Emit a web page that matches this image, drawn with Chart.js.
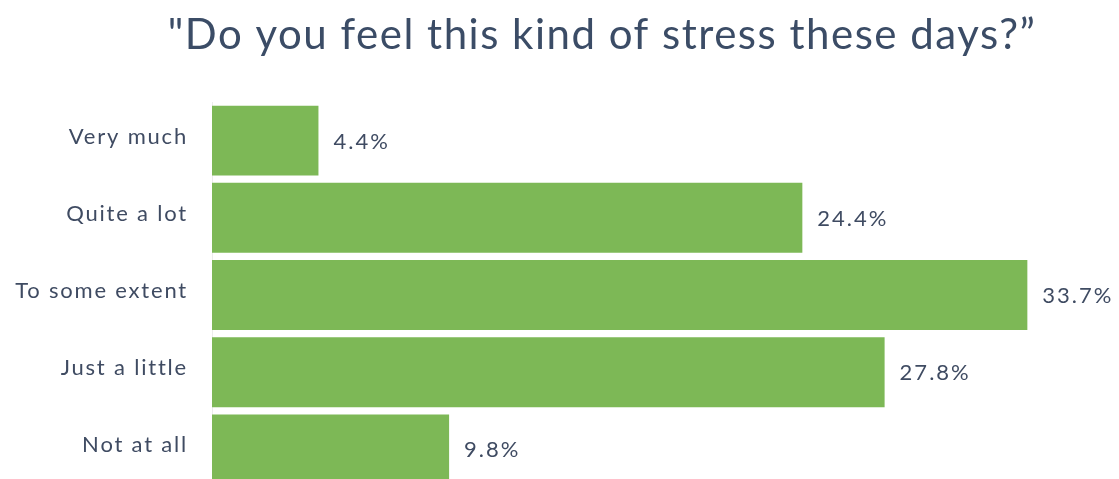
<!DOCTYPE html>
<html>
<head>
<meta charset="utf-8">
<script src="https://cdn.jsdelivr.net/npm/chart.js@4"></script>
<style>
  html, body { margin: 0; padding: 0; background: #ffffff; overflow: hidden; }
  #wrap { position: relative; width: 1119px; height: 488px; }
</style>
</head>
<body>
<div id="wrap"><canvas id="chart"></canvas></div>
<script>
// Survey answers and their shares (%)
const titleText = '"Do you feel this kind of stress these days?\u201D';
const answers = ['Very much', 'Quite a lot', 'To some extent', 'Just a little', 'Not at all'];
const shares = [4.4, 24.4, 33.7, 27.8, 9.8];

const BAR_GREEN = '#7db856';
const TEXT_DARK = '#3f4b62';
const FONT = 'Lato, "Open Sans", sans-serif';

// Wider tracking for every piece of text on the canvas
const tracking = {
  id: 'tracking',
  beforeDraw(chart) {
    chart.ctx.letterSpacing = '1.8px';
  }
};

// Headline drawn centred over the plot
const headline = {
  id: 'headline',
  afterDraw(chart) {
    const ctx = chart.ctx;
    ctx.save();
    ctx.letterSpacing = '1.5px';
    ctx.font = '400 42px ' + FONT;
    ctx.fillStyle = '#3b4c66';
    ctx.textAlign = 'center';
    ctx.textBaseline = 'alphabetic';
    ctx.fillText(titleText, 602, 49);
    ctx.restore();
  }
};

// Percentage written just past the end of each bar
const valueLabels = {
  id: 'valueLabels',
  afterDatasetsDraw(chart) {
    const ctx = chart.ctx;
    const meta = chart.getDatasetMeta(0);
    ctx.save();
    ctx.letterSpacing = '2px';
    ctx.font = '400 22px ' + FONT;
    ctx.fillStyle = TEXT_DARK;
    ctx.textAlign = 'left';
    ctx.textBaseline = 'middle';
    meta.data.forEach((bar, i) => {
      ctx.fillText(shares[i].toFixed(1) + '%', bar.x + 15, bar.y + 1);
    });
    ctx.restore();
  }
};

new Chart(document.getElementById('chart'), {
  type: 'bar',
  data: {
    labels: answers,
    datasets: [{
      data: shares,
      backgroundColor: BAR_GREEN,
      borderWidth: 0,
      categoryPercentage: 1.0,
      barPercentage: 0.905
    }]
  },
  options: {
    indexAxis: 'y',
    responsive: true,
    maintainAspectRatio: false,
    animation: false,
    layout: { padding: { top: 102, right: 36, bottom: 0, left: 0 } },
    plugins: {
      legend: { display: false },
      tooltip: { enabled: false },
      title: { display: false }
    },
    scales: {
      x: {
        display: false,
        min: 0,
        max: 36
      },
      y: {
        grid: { display: false, drawTicks: false },
        border: { display: true, color: '#ececec', width: 1 },
        ticks: {
          color: TEXT_DARK,
          font: { family: FONT, size: 22 },
          padding: 24,
          labelOffset: -4
        },
        afterFit(scale) {
          // fixed label column; bars run from the very top to the bottom edge
          scale.width = 212;
          scale.paddingTop = 0;
          scale.paddingBottom = 0;
        }
      }
    }
  },
  plugins: [tracking, headline, valueLabels]
});
</script>
</body>
</html>
